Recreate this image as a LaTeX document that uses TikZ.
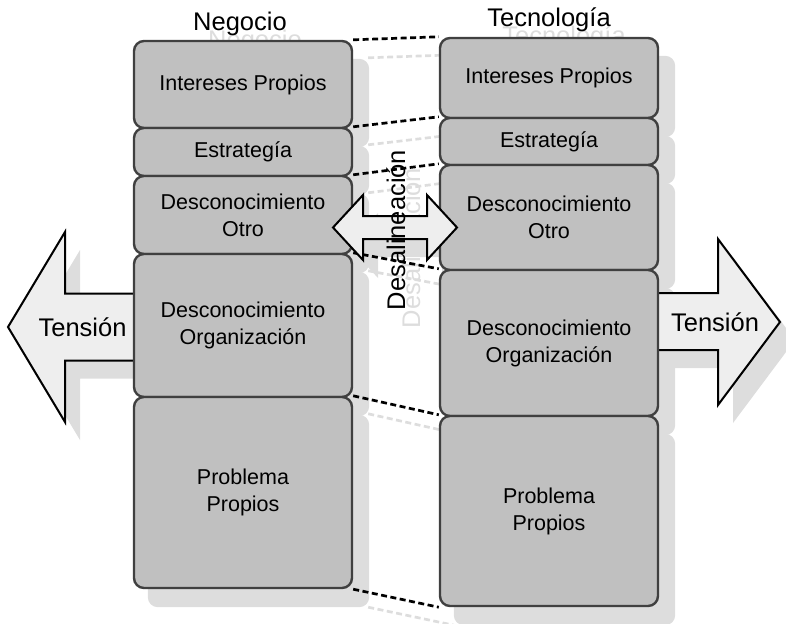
\documentclass[tikz,border=0pt]{standalone}
\usepackage{fontspec}
\setmainfont{Liberation Sans}
\usepackage{xcolor}
\definecolor{boxGrey}{HTML}{C0C0C0}
\definecolor{boxEdge}{HTML}{404040}
\definecolor{shadowGrey}{HTML}{DDDDDD}
\definecolor{arrowFill}{HTML}{EEEEEE}
\usepackage{tikz}
\usetikzlibrary{
    backgrounds,
    calc
}

\begin{document}
\begin{tikzpicture}[
    x=1pt, y=-1pt,
    layerBox/.style={
        rectangle, rounded corners=10pt,
        draw=boxEdge, line width=2.4pt,
        fill=boxGrey, text=black,
        font=\fontsize{21.5}{27}\selectfont,
        align=center, inner sep=0pt, minimum width=218pt
    },
    bigText/.style={
        font=\fontsize{25.5}{30}\selectfont, text=black, inner sep=0pt
    },
    ghostText/.style={
        bigText, text=shadowGrey
    },
    tensionArrow/.style={
        draw=black, line width=2pt, fill=arrowFill, line join=miter
    },
    shadowShape/.style={
        fill=shadowGrey
    },
    linkLine/.style={
        dash pattern=on 6pt off 3.5pt, line width=2.7pt, draw=black
    },
    linkShadow/.style={
        linkLine, draw=shadowGrey
    }
]
    \useasboundingbox (0,0) rectangle (786,623);

    % Tension arrows (behind the columns)
    \draw[tensionArrow] (8,327) -- (65,232) -- (65,293.5) -- (170,293.5)
        -- (170,360.5) -- (65,360.5) -- (65,422) -- cycle;
    \draw[tensionArrow] (780,322) -- (718,239) -- (718,293) -- (630,293)
        -- (630,350) -- (718,350) -- (718,405) -- cycle;
    \node[bigText] (tenLeft) at (82.5,327) {Tensión};
    \node[bigText] (tenRight) at (715,322) {Tensión};

    % Titles
    \node[bigText, anchor=base] (negTitle) at (240,31) {Negocio};
    \node[bigText, anchor=base] (tecTitle) at (549,27) {Tecnología};

    % Left column
    \node[layerBox, minimum height=87pt]  (lInt)  at (243,84.5)  {Intereses Propios};
    \node[layerBox, minimum height=48pt]  (lStr)  at (243,152)   {Estrategía};
    \node[layerBox, minimum height=78pt]  (lOtro) at (243,215)   {Desconocimiento\\Otro};
    \node[layerBox, minimum height=143pt] (lOrg)  at (243,325.5) {Desconocimiento\\Organización};
    \node[layerBox, minimum height=191pt] (lProb) at (243,492.5) {Problema\\Propios};

    % Right column
    \node[layerBox, minimum height=80pt]  (rInt)  at (549,78)    {Intereses Propios};
    \node[layerBox, minimum height=47pt]  (rStr)  at (549,141.5) {Estrategía};
    \node[layerBox, minimum height=105pt] (rOtro) at (549,217.5) {Desconocimiento\\Otro};
    \node[layerBox, minimum height=146pt] (rOrg)  at (549,343)   {Desconocimiento\\Organización};
    \node[layerBox, minimum height=190pt] (rProb) at (549,511)   {Problema\\Propios};

    % Connections
    \foreach \l/\r in {lInt/rInt, lStr/rStr, lOtro/rOtro, lOrg/rOrg, lProb/rProb}
        \draw[linkLine] (\l.north east) -- (\r.north west);
    \draw[linkLine] (lProb.south east) -- (rProb.south west);

    % Misalignment arrow
    \draw[tensionArrow] (333,227.5) -- (363,195) -- (363,216) -- (427,216)
        -- (427,195) -- (457,227.5) -- (427,260) -- (427,239) -- (363,239)
        -- (363,260) -- cycle;
    \node[bigText, rotate=90, anchor=base] (misalign) at (405,230) {Desalineación};

    % Shadows
    \begin{scope}[on background layer]
        \foreach \b in {lInt, lStr, lOtro, lOrg, lProb, rInt, rStr, rOtro, rOrg, rProb}
            \fill[shadowShape, rounded corners=10pt]
                ([shift={(15,18)}]\b.south west) rectangle ([shift={(16,19)}]\b.north east);
        \foreach \l/\r in {lInt/rInt, lStr/rStr, lOtro/rOtro, lOrg/rOrg, lProb/rProb}
            \draw[linkShadow] ([shift={(15,18)}]\l.north east) -- ([shift={(15,18)}]\r.north west);
        \draw[linkShadow] ([shift={(15,18)}]lProb.south east) -- ([shift={(15,18)}]rProb.south west);
        \begin{scope}[shift={(15,18)}]
            \fill[shadowShape] (8,327) -- (65,232) -- (65,293.5) -- (170,293.5)
                -- (170,360.5) -- (65,360.5) -- (65,422) -- cycle;
            \fill[shadowShape] (780,322) -- (718,239) -- (718,293) -- (630,293)
                -- (630,350) -- (718,350) -- (718,405) -- cycle;
            \fill[shadowShape] (333,227.5) -- (363,195) -- (363,216) -- (427,216)
                -- (427,195) -- (457,227.5) -- (427,260) -- (427,239) -- (363,239)
                -- (363,260) -- cycle;
        \end{scope}
        \node[ghostText, anchor=base] (negGhost) at ($(negTitle.base)+(15,18)$) {Negocio};
        \node[ghostText, anchor=base] (tecGhost) at ($(tecTitle.base)+(15,18)$) {Tecnología};
        \node[ghostText, rotate=90, anchor=base] (misGhost) at ($(misalign.base)+(15,18)$) {Desalineación};
    \end{scope}

\end{tikzpicture}
\end{document}
